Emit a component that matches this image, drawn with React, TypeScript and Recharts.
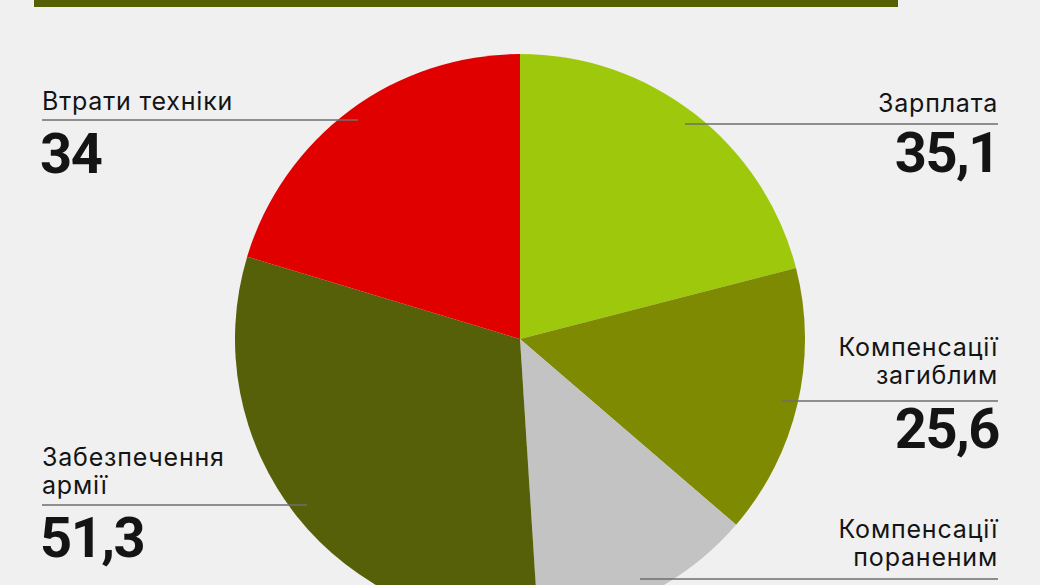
import { PieChart, Pie, Cell } from "recharts";

// budget split, clockwise from 12 o'clock
const categories = [
  "Зарплата",
  "Компенсації загиблим",
  "Компенсації пораненим",
  "Забезпечення армії",
  "Втрати техніки",
];
const values = [35.1, 25.6, 21.2, 51.3, 34];
const valueLabels = ["35,1", "25,6", "", "51,3", "34"];

const COLORS = ["#9EC80C", "#7F8A03", "#C3C3C3", "#566008", "#E00000"];
const BG = "#F0F0F0";
const INK = "#141414";
const RULE = "#6E6E6E";

const W = 1040;
const H = 585;

const pieData = categories.map((name, i) => ({ name, value: values[i] }));

// label placement (layout only)
const labelLayout = [
  { side: "right", lines: ["Зарплата"], base: 112, rule: 124, ruleFrom: 685, num: 172 },
  { side: "right", lines: ["Компенсації", "загиблим"], base: 356, rule: 401, ruleFrom: 782, num: 448 },
  { side: "right", lines: ["Компенсації", "пораненим"], base: 538, rule: 579, ruleFrom: 640, num: 0 },
  { side: "left", lines: ["Забезпечення", "армії"], base: 466, rule: 505, ruleTo: 307, num: 557 },
  { side: "left", lines: ["Втрати техніки"], base: 110, rule: 120, ruleTo: 358, num: 173 },
];

const LINE_H = 28;

function Labels() {
  return (
    <svg width={W} height={H} style={{ position: "absolute", left: 0, top: 0 }}>
      {labelLayout.map((l, i) => {
        const right = l.side === "right";
        const x = right ? 998 : 42;
        const anchor = right ? "end" : "start";
        return (
          <g key={i}>
            {l.lines.map((t, j) => (
              <text key={j} x={x} y={l.base + j * LINE_H} textAnchor={anchor}
                fontFamily="Inter, sans-serif" fontSize={25} letterSpacing={0.8} fill={INK}>{t}</text>
            ))}
            <line x1={right ? l.ruleFrom : 42} x2={right ? 998 : l.ruleTo} y1={l.rule} y2={l.rule}
              stroke={RULE} strokeWidth={1.6} />
            {valueLabels[i] && (
              <text x={right ? 999 : 40} y={l.num} textAnchor={anchor} fontFamily="Roboto, sans-serif"
                fontWeight={700} fontSize={56} letterSpacing={-1.5} fill={INK}>{valueLabels[i]}</text>
            )}
          </g>
        );
      })}
    </svg>
  );
}

export default function App() {
  return (
    <div style={{ position: "fixed", left: 0, top: 0, width: W, height: H, background: BG, overflow: "hidden" }}>
      <div style={{ position: "absolute", left: 34, top: 0, width: 864, height: 7, background: "#556005" }} />
      <div style={{ position: "absolute", left: 0, top: 0 }}>
        <PieChart width={W} height={H} margin={{ top: 0, right: 0, bottom: 0, left: 0 }}>
          <Pie data={pieData} dataKey="value" nameKey="name" cx={520} cy={339} outerRadius={285}
            startAngle={90} endAngle={-270} stroke="none" isAnimationActive={false}>
            {pieData.map((d, i) => <Cell key={d.name} fill={COLORS[i]} />)}
          </Pie>
        </PieChart>
      </div>
      <Labels />
    </div>
  );
}
